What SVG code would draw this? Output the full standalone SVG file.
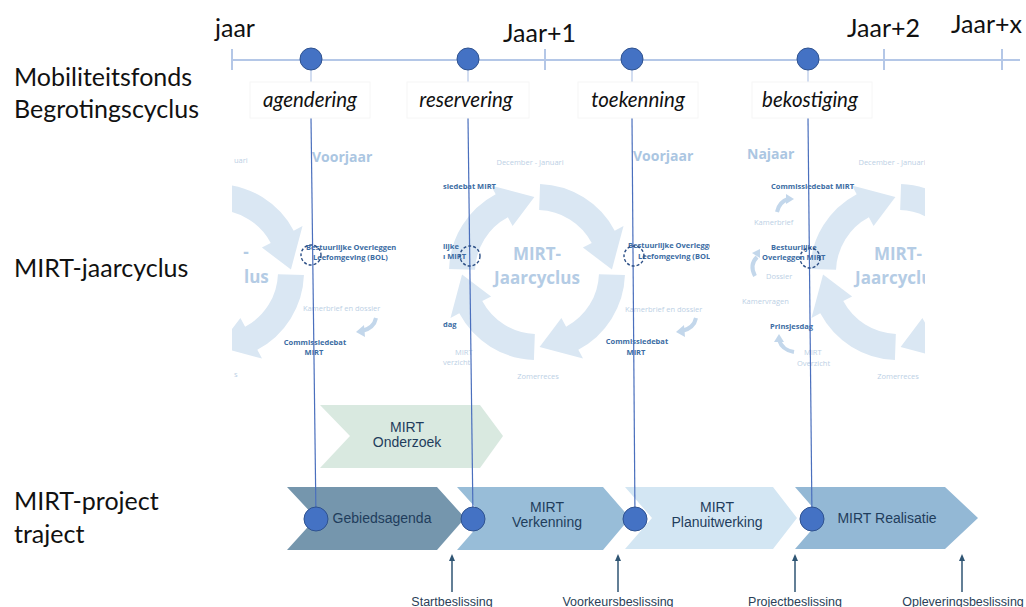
<svg xmlns="http://www.w3.org/2000/svg" width="1026" height="607" viewBox="0 0 1026 607">
<style>
.lbl{font-family:Lato,"Liberation Sans",sans-serif;font-size:25px;fill:#111}
.yr{font-family:Lato,"Liberation Sans",sans-serif;font-size:25px;fill:#111}
.it{font-family:Lato,"Liberation Sans",sans-serif;font-size:20.5px;font-style:italic;fill:#111;text-anchor:middle}
.ring{fill:#dae7f3}
.big{font-family:"Open Sans","Liberation Sans",sans-serif;font-size:17px;font-weight:bold;fill:#b4cce5;text-anchor:middle}
.ssn{font-family:"Open Sans","Liberation Sans",sans-serif;font-size:14px;font-weight:bold;fill:#abc6e2}
.dk{font-family:"Open Sans","Liberation Sans",sans-serif;font-size:7.5px;font-weight:bold;fill:#3b6ca3}
.lt{font-family:"Open Sans","Liberation Sans",sans-serif;font-size:7.5px;fill:#bcd0e5}
.dash{fill:none;stroke:#2c4f86;stroke-width:1.4;stroke-dasharray:3 2}
.sarr{fill:none;stroke:#c3d7eb;stroke-width:4}
.sah{fill:#c3d7eb}
.vl{stroke:#4a6fbd;stroke-width:1.2;fill:none}
.vll{stroke:#b4c7e7;stroke-width:1.2;fill:none}
.tl{stroke:#b4c7e7;stroke-width:2}
.dot{fill:#4472c4;stroke:#2f528f;stroke-width:1}
.ct{font-family:"Liberation Sans",Arial,sans-serif;font-size:14px;fill:#1f3d5c;text-anchor:middle}
.dec{font-family:"Liberation Sans",Arial,sans-serif;font-size:12.5px;fill:#2a3f58;text-anchor:middle}
.darr{stroke:#2f5573;stroke-width:1.5}
.dah{fill:#2f5573}
.box{fill:none;stroke:#f6f6f6;stroke-width:1}
</style>
<defs>
<path id="seg" class="ring" d="M3.07,-87.95 A88,88 0 0 1 77.70,-41.32 L86.52,-46.01 L74.95,-2.62 L45.91,-24.41 L54.74,-29.11 A62,62 0 0 0 2.16,-61.96 Z"/>
<g id="cyc">
<use href="#seg"/>
<use href="#seg" transform="rotate(90)"/>
<use href="#seg" transform="rotate(180)"/>
<use href="#seg" transform="rotate(270)"/>
</g>
<clipPath id="c1"><rect x="232" y="125" width="200" height="285"/></clipPath>
<clipPath id="c2"><rect x="441" y="125" width="200" height="285"/></clipPath>
<clipPath id="c3"><rect x="600" y="125" width="110" height="285"/></clipPath>
<clipPath id="c4"><rect x="737" y="125" width="188" height="285"/></clipPath>
</defs>
<rect width="1026" height="607" fill="#ffffff"/>

<!-- left row labels -->
<g id="row-labels">
<text class="lbl" x="14" y="86">Mobiliteitsfonds</text>
<text class="lbl" x="14" y="118">Begrotingscyclus</text>
<text class="lbl" x="14" y="277">MIRT-jaarcyclus</text>
<text class="lbl" x="14" y="510">MIRT-project</text>
<text class="lbl" x="14" y="543">traject</text>
</g>

<!-- timeline -->
<g id="timeline">
<line class="tl" x1="232" y1="60" x2="1020" y2="60"/>
<line class="tl" x1="232" y1="49" x2="232" y2="70"/>
<line class="tl" x1="545" y1="49" x2="545" y2="70"/>
<line class="tl" x1="884" y1="49" x2="884" y2="70"/>
<line class="tl" x1="1002" y1="49" x2="1002" y2="70"/>
<text class="yr" x="215" y="37">jaar</text>
<text class="yr" x="503" y="42">Jaar+1</text>
<text class="yr" x="847" y="37">Jaar+2</text>
<text class="yr" x="951" y="33">Jaar+x</text>
</g>

<!-- faded MIRT-jaarcyclus panels -->
<g id="panel1" clip-path="url(#c1)">
<use href="#cyc" transform="translate(216,272)"/>
<text class="big" x="246" y="258">-</text>
<text class="big" x="244" y="283" style="text-anchor:start">lus</text>
<text class="lt" x="234" y="163">uari</text>
<text class="lt" x="234" y="377">s</text>
<text class="ssn" x="312" y="162">Voorjaar</text>
<text class="dk" x="306" y="250">Bestuurlijke Overleggen</text>
<text class="dk" x="313" y="260">Leefomgeving (BOL)</text>
<text class="lt" x="303" y="311">Kamerbrief en dossier</text>
<path class="sarr" d="M376,318 Q374,328 362,331"/>
<path class="sah" d="M364,325 L356,332 L365,337 Z"/>
<text class="dk" x="315" y="345" text-anchor="middle">Commissiedebat</text>
<text class="dk" x="314" y="355" text-anchor="middle">MIRT</text>
</g>
<g id="panel2" clip-path="url(#c2)">
<use href="#cyc" transform="translate(537,272)"/>
<text class="big" x="537" y="260">MIRT-</text>
<text class="big" x="537" y="284">Jaarcyclus</text>
<text class="lt" x="530" y="165" text-anchor="middle">December - Januari</text>
<text class="lt" x="538" y="379" text-anchor="middle">Zomerreces</text>
<text class="dk" x="443" y="189">siedebat MIRT</text>
<text class="dk" x="443" y="249">lijke</text>
<text class="dk" x="443" y="259">ı MIRT</text>
<text class="dk" x="443" y="327">dag</text>
<text class="lt" x="455" y="355">MIRT</text>
<text class="lt" x="443" y="365">verzicht</text>
</g>
<g id="panel3" clip-path="url(#c3)">
<text class="ssn" x="633" y="161">Voorjaar</text>
<text class="dk" x="628" y="248">Bestuurlijke Overleggen</text>
<text class="dk" x="638" y="259">Leefomgeving (BOL)</text>
<text class="lt" x="625" y="312">Kamerbrief en dossier</text>
<path class="sarr" d="M696,318 Q694,328 682,331"/>
<path class="sah" d="M684,325 L676,332 L685,337 Z"/>
<text class="dk" x="637" y="344" text-anchor="middle">Commissiedebat</text>
<text class="dk" x="636" y="355" text-anchor="middle">MIRT</text>
</g>
<g id="panel4" clip-path="url(#c4)">
<use href="#cyc" transform="translate(898,272)"/>
<text class="big" x="898" y="260">MIRT-</text>
<text class="big" x="898" y="284">Jaarcyclus</text>
<text class="lt" x="892" y="165" text-anchor="middle">December - Januari</text>
<text class="lt" x="898" y="379" text-anchor="middle">Zomerreces</text>
<text class="ssn" x="747" y="159">Najaar</text>
<text class="dk" x="771" y="189">Commissiedebat MIRT</text>
<path class="sarr" d="M777,212 Q779,202 788,199"/>
<path class="sah" d="M786,194 L794,199 L786,204 Z"/>
<text class="lt" x="754" y="225">Kamerbrief</text>
<text class="dk" x="771" y="250">Bestuurlijke</text>
<text class="dk" x="762" y="260">Overleggen MIRT</text>
<path class="sarr" d="M757,257 Q749,265 755,276"/>
<path class="sah" d="M752,253 L760,249 L760,258 Z"/>
<text class="lt" x="766" y="279">Dossier</text>
<text class="lt" x="742" y="304">Kamervragen</text>
<text class="dk" x="770" y="329">Prinsjesdag</text>
<path class="sarr" d="M794,352 Q782,350 779,340"/>
<path class="sah" d="M774,342 L779,334 L784,342 Z"/>
<text class="lt" x="804" y="355">MIRT</text>
<text class="lt" x="797" y="366">Overzicht</text>
</g>

<!-- MIRT Onderzoek -->
<g id="onderzoek">
<path d="M320,405 L480,405 L503,436 L480,468 L320,468 L350,436 Z" fill="#d9e9e0"/>
<text class="ct" x="407" y="432">MIRT</text>
<text class="ct" x="407" y="447">Onderzoek</text>
</g>

<!-- project chevrons -->
<g id="gebiedsagenda">
<path d="M287,487 L437,487 L465,518 L437,550 L287,550 L316,518 Z" fill="#7596ad"/>
<text class="ct" x="382" y="523">Gebiedsagenda</text>
</g>
<g id="verkenning">
<path d="M457,487 L603,487 L630,518 L603,550 L457,550 L485,518 Z" fill="#98bdd8"/>
<text class="ct" x="547" y="512">MIRT</text>
<text class="ct" x="547" y="527">Verkenning</text>
</g>
<g id="planuitwerking">
<path d="M625,487 L773,487 L797,518 L773,549 L625,549 L652,518 Z" fill="#d3e6f3"/>
<text class="ct" x="717" y="512">MIRT</text>
<text class="ct" x="717" y="527">Planuitwerking</text>
</g>
<g id="realisatie">
<path d="M795,487 L945,487 L978,518 L945,549 L795,549 L822,518 Z" fill="#93b8d5"/>
<text class="ct" x="887" y="523">MIRT Realisatie</text>
</g>

<!-- connectors -->
<g id="connectors">
<line class="vll" x1="311" y1="70" x2="311" y2="82"/>
<line class="vll" x1="468" y1="70" x2="468" y2="82"/>
<line class="vll" x1="632" y1="70" x2="632" y2="82"/>
<line class="vll" x1="808" y1="70" x2="808" y2="82"/>
<line class="vl" x1="311" y1="118" x2="316" y2="519"/>
<line class="vl" x1="468" y1="118" x2="473" y2="519"/>
<line class="vl" x1="632" y1="118" x2="635" y2="519"/>
<line class="vl" x1="808" y1="118" x2="812" y2="519"/>
<line class="darr" x1="452" y1="592" x2="452" y2="559"/>
<path class="dah" d="M449,561 L452,554 L455,561 Z"/>
<line class="darr" x1="618" y1="592" x2="618" y2="559"/>
<path class="dah" d="M615,561 L618,554 L621,561 Z"/>
<line class="darr" x1="795" y1="592" x2="795" y2="559"/>
<path class="dah" d="M792,561 L795,554 L798,561 Z"/>
<line class="darr" x1="962" y1="592" x2="962" y2="559"/>
<path class="dah" d="M959,561 L962,554 L965,561 Z"/>
</g>

<!-- dashed markers -->
<g id="dashed-markers">
<circle class="dash" cx="311" cy="255" r="10"/>
<circle class="dash" cx="470" cy="256" r="10"/>
<circle class="dash" cx="634" cy="256" r="10"/>
<circle class="dash" cx="810" cy="258" r="10"/>
</g>

<!-- budget cycle stages -->
<g id="stages">
<rect class="box" x="250" y="82" width="120" height="36"/>
<rect class="box" x="407" y="82" width="122" height="36"/>
<rect class="box" x="578" y="82" width="120" height="36"/>
<rect class="box" x="752" y="82" width="120" height="36"/>
<text class="it" x="310" y="107">agendering</text>
<text class="it" x="466" y="107">reservering</text>
<text class="it" x="638" y="107">toekenning</text>
<text class="it" x="810" y="107">bekostiging</text>
<circle class="dot" cx="311" cy="59" r="11"/>
<circle class="dot" cx="468" cy="59" r="11"/>
<circle class="dot" cx="632" cy="59" r="11"/>
<circle class="dot" cx="808" cy="59" r="11"/>
</g>

<g id="project-dots">
<circle class="dot" cx="316" cy="519" r="12"/>
<circle class="dot" cx="473" cy="519" r="12"/>
<circle class="dot" cx="635" cy="519" r="12"/>
<circle class="dot" cx="812" cy="519" r="12"/>
</g>

<g id="decisions">
<text class="dec" x="452" y="606">Startbeslissing</text>
<text class="dec" x="618" y="606">Voorkeursbeslissing</text>
<text class="dec" x="795" y="606">Projectbeslissing</text>
<text class="dec" x="963" y="606">Opleveringsbeslissing</text>
</g>
</svg>
